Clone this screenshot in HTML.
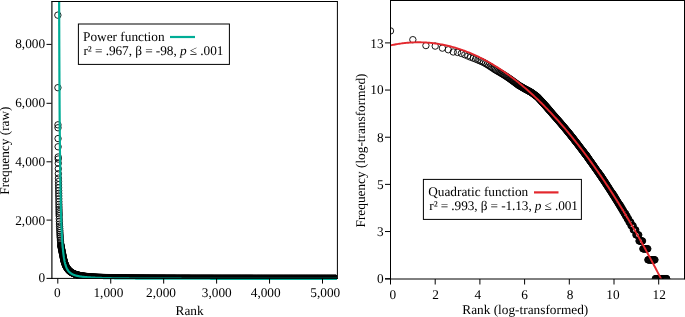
<!DOCTYPE html>
<html><head><meta charset="utf-8"><style>
html,body{margin:0;padding:0;background:#fff;}
body{width:685px;height:317px;overflow:hidden;}
svg{display:block;will-change:transform;} text{text-rendering:geometricPrecision;}
</style></head><body>
<svg width="685" height="317" viewBox="0 0 685 317">
<defs><clipPath id="cl"><rect x="52" y="2" width="285" height="277"/></clipPath><clipPath id="cl2"><rect x="52" y="2" width="285" height="279"/></clipPath><clipPath id="cr"><rect x="391" y="1" width="293" height="277.7"/></clipPath><clipPath id="cr2"><rect x="391" y="1" width="293" height="300"/></clipPath></defs>
<g clip-path="url(#cl)" fill="none" stroke="#000" stroke-width="0.9"><circle cx="57.85" cy="15.15" r="3.2"/><circle cx="57.91" cy="87.69" r="3.2"/><circle cx="57.96" cy="124.84" r="3.2"/><circle cx="58.01" cy="127.76" r="3.2"/><circle cx="58.06" cy="138.58" r="3.2"/><circle cx="58.12" cy="146.77" r="3.2"/><circle cx="58.17" cy="157.01" r="3.2"/><circle cx="58.22" cy="159.06" r="3.2"/><circle cx="58.28" cy="163.27" r="3.2"/><circle cx="58.33" cy="168.74" r="3.2"/><circle cx="58.38" cy="173.74" r="3.2"/><circle cx="58.44" cy="178.19" r="3.2"/><circle cx="58.49" cy="181.58" r="3.2"/><circle cx="58.54" cy="184.80" r="3.2"/><circle cx="58.59" cy="187.84" r="3.2"/><circle cx="58.65" cy="190.68" r="3.2"/><circle cx="58.70" cy="193.40" r="3.2"/><circle cx="58.75" cy="195.94" r="3.2"/><circle cx="58.81" cy="198.81" r="3.2"/><circle cx="58.86" cy="201.71" r="3.2"/><circle cx="58.91" cy="204.43" r="3.2"/><circle cx="58.96" cy="207.00" r="3.2"/><circle cx="59.02" cy="209.40" r="3.2"/><circle cx="59.07" cy="211.65" r="3.2"/><circle cx="59.12" cy="213.79" r="3.2"/><circle cx="59.18" cy="215.80" r="3.2"/><circle cx="59.28" cy="218.82" r="3.2"/><circle cx="59.39" cy="221.57" r="3.2"/><circle cx="59.49" cy="224.08" r="3.2"/><circle cx="59.60" cy="226.42" r="3.2"/><circle cx="59.71" cy="228.59" r="3.2"/><circle cx="59.81" cy="230.69" r="3.2"/><circle cx="59.92" cy="232.65" r="3.2"/><circle cx="60.02" cy="234.50" r="3.2"/><circle cx="60.13" cy="236.19" r="3.2"/><circle cx="60.24" cy="237.80" r="3.2"/><circle cx="60.39" cy="239.99" r="3.2"/><circle cx="60.55" cy="241.98" r="3.2"/><circle cx="60.76" cy="243.91" r="3.2"/><circle cx="60.92" cy="245.14" r="3.2"/><circle cx="60.98" cy="245.52" r="3.2"/><circle cx="61.03" cy="245.90" r="3.2"/><circle cx="61.08" cy="246.25" r="3.2"/><circle cx="61.14" cy="246.63" r="3.2"/><circle cx="61.19" cy="246.99" r="3.2"/><circle cx="61.29" cy="247.57" r="3.2"/><circle cx="61.40" cy="248.13" r="3.2"/><circle cx="61.51" cy="248.68" r="3.2"/><circle cx="61.61" cy="249.21" r="3.2"/><circle cx="61.72" cy="249.73" r="3.2"/><circle cx="61.82" cy="250.23" r="3.2"/><circle cx="61.93" cy="250.73" r="3.2"/><circle cx="62.04" cy="251.26" r="3.2"/><circle cx="62.14" cy="251.84" r="3.2"/><circle cx="62.25" cy="252.40" r="3.2"/><circle cx="62.35" cy="252.92" r="3.2"/><circle cx="62.46" cy="253.45" r="3.2"/><circle cx="62.56" cy="253.95" r="3.2"/><circle cx="62.67" cy="254.41" r="3.2"/><circle cx="62.78" cy="254.88" r="3.2"/><circle cx="62.88" cy="255.38" r="3.2"/><circle cx="62.99" cy="255.97" r="3.2"/><circle cx="63.09" cy="256.52" r="3.2"/><circle cx="63.20" cy="257.08" r="3.2"/><circle cx="63.31" cy="257.60" r="3.2"/><circle cx="63.41" cy="258.10" r="3.2"/><circle cx="63.52" cy="258.60" r="3.2"/><circle cx="63.62" cy="259.07" r="3.2"/><circle cx="63.73" cy="259.50" r="3.2"/><circle cx="63.84" cy="259.94" r="3.2"/><circle cx="63.94" cy="260.35" r="3.2"/><circle cx="64.05" cy="260.76" r="3.2"/><circle cx="64.15" cy="261.14" r="3.2"/><circle cx="64.26" cy="261.52" r="3.2"/><circle cx="64.36" cy="261.87" r="3.2"/><circle cx="64.47" cy="262.22" r="3.2"/><circle cx="64.58" cy="262.58" r="3.2"/><circle cx="64.74" cy="263.07" r="3.2"/><circle cx="64.89" cy="263.54" r="3.2"/><circle cx="65.05" cy="263.98" r="3.2"/><circle cx="65.21" cy="264.39" r="3.2"/><circle cx="65.37" cy="264.80" r="3.2"/><circle cx="65.53" cy="265.18" r="3.2"/><circle cx="65.69" cy="265.56" r="3.2"/><circle cx="65.85" cy="265.91" r="3.2"/><circle cx="66.01" cy="266.23" r="3.2"/><circle cx="66.16" cy="266.55" r="3.2"/><circle cx="66.38" cy="266.93" r="3.2"/><circle cx="66.59" cy="267.31" r="3.2"/><circle cx="66.80" cy="267.67" r="3.2"/><circle cx="67.01" cy="267.99" r="3.2"/><circle cx="67.22" cy="268.31" r="3.2"/><circle cx="67.44" cy="268.60" r="3.2"/><circle cx="67.65" cy="268.89" r="3.2"/><circle cx="67.91" cy="269.22" r="3.2"/><circle cx="68.18" cy="269.54" r="3.2"/><circle cx="68.44" cy="269.86" r="3.2"/><circle cx="68.71" cy="270.12" r="3.2"/><circle cx="68.97" cy="270.41" r="3.2"/><circle cx="69.24" cy="270.68" r="3.2"/><circle cx="69.50" cy="270.91" r="3.2"/><circle cx="69.76" cy="271.15" r="3.2"/><circle cx="70.03" cy="271.38" r="3.2"/><circle cx="70.35" cy="271.61" r="3.2"/><circle cx="70.66" cy="271.88" r="3.2"/><circle cx="70.98" cy="272.08" r="3.2"/><circle cx="71.30" cy="272.32" r="3.2"/><circle cx="71.62" cy="272.52" r="3.2"/><circle cx="71.93" cy="272.70" r="3.2"/><circle cx="72.25" cy="272.90" r="3.2"/><circle cx="72.57" cy="273.08" r="3.2"/><circle cx="72.94" cy="273.25" r="3.2"/><circle cx="73.26" cy="273.43" r="3.2"/><circle cx="73.63" cy="273.57" r="3.2"/><circle cx="74.00" cy="273.75" r="3.2"/><circle cx="74.37" cy="273.92" r="3.2"/><circle cx="74.74" cy="274.07" r="3.2"/><circle cx="75.11" cy="274.19" r="3.2"/><circle cx="75.48" cy="274.33" r="3.2"/><circle cx="75.85" cy="274.45" r="3.2"/><circle cx="76.22" cy="274.60" r="3.2"/><circle cx="76.59" cy="274.71" r="3.2"/><circle cx="76.96" cy="274.80" r="3.2"/><circle cx="77.33" cy="274.92" r="3.2"/><circle cx="77.71" cy="275.01" r="3.2"/><circle cx="78.08" cy="275.12" r="3.2"/><circle cx="78.45" cy="275.21" r="3.2"/><circle cx="78.82" cy="275.30" r="3.2"/><circle cx="79.19" cy="275.39" r="3.2"/><circle cx="79.56" cy="275.45" r="3.2"/><circle cx="79.93" cy="275.53" r="3.2"/><circle cx="80.30" cy="275.62" r="3.2"/><circle cx="80.67" cy="275.68" r="3.2"/><circle cx="81.04" cy="275.74" r="3.2"/><circle cx="81.41" cy="275.83" r="3.2"/><circle cx="81.78" cy="275.88" r="3.2"/><circle cx="82.15" cy="275.94" r="3.2"/><circle cx="82.52" cy="276.00" r="3.2"/><circle cx="82.89" cy="276.06" r="3.2"/><circle cx="83.26" cy="276.12" r="3.2"/><circle cx="83.63" cy="276.18" r="3.2"/><circle cx="84.01" cy="276.21" r="3.2"/><circle cx="84.38" cy="276.26" r="3.2"/><circle cx="84.75" cy="276.32" r="3.2"/><circle cx="85.12" cy="276.35" r="3.2"/><circle cx="85.49" cy="276.41" r="3.2"/><circle cx="85.86" cy="276.44" r="3.2"/><circle cx="86.23" cy="276.50" r="3.2"/><circle cx="86.60" cy="276.53" r="3.2"/><circle cx="86.97" cy="276.59" r="3.2"/><circle cx="87.34" cy="276.62" r="3.2"/><circle cx="87.71" cy="276.64" r="3.2"/><circle cx="88.08" cy="276.67" r="3.2"/><circle cx="88.45" cy="276.73" r="3.2"/><circle cx="88.82" cy="276.76" r="3.2"/><circle cx="89.19" cy="276.79" r="3.2"/><circle cx="89.56" cy="276.82" r="3.2"/><circle cx="89.93" cy="276.85" r="3.2"/><circle cx="90.31" cy="276.88" r="3.2"/><circle cx="90.68" cy="276.91" r="3.2"/><circle cx="91.05" cy="276.94" r="3.2"/><circle cx="91.42" cy="276.97" r="3.2"/><circle cx="91.79" cy="277.00" r="3.2"/><circle cx="92.16" cy="277.03" r="3.2"/><circle cx="92.53" cy="277.05" r="3.2"/><circle cx="92.90" cy="277.05" r="3.2"/><circle cx="93.27" cy="277.08" r="3.2"/><circle cx="93.64" cy="277.11" r="3.2"/><circle cx="94.01" cy="277.14" r="3.2"/><circle cx="94.38" cy="277.17" r="3.2"/><circle cx="94.75" cy="277.17" r="3.2"/><circle cx="95.12" cy="277.20" r="3.2"/><circle cx="95.49" cy="277.23" r="3.2"/><circle cx="95.86" cy="277.23" r="3.2"/><circle cx="96.23" cy="277.26" r="3.2"/><circle cx="96.61" cy="277.29" r="3.2"/><circle cx="96.98" cy="277.29" r="3.2"/><circle cx="97.35" cy="277.32" r="3.2"/><circle cx="97.72" cy="277.35" r="3.2"/><circle cx="98.09" cy="277.35" r="3.2"/><circle cx="98.46" cy="277.38" r="3.2"/><circle cx="98.83" cy="277.38" r="3.2"/><circle cx="99.20" cy="277.41" r="3.2"/><circle cx="99.57" cy="277.41" r="3.2"/><circle cx="99.94" cy="277.43" r="3.2"/><circle cx="100.31" cy="277.43" r="3.2"/><circle cx="100.68" cy="277.46" r="3.2"/><circle cx="101.05" cy="277.46" r="3.2"/><circle cx="101.42" cy="277.49" r="3.2"/><circle cx="101.79" cy="277.49" r="3.2"/><circle cx="102.16" cy="277.52" r="3.2"/><circle cx="102.53" cy="277.52" r="3.2"/><circle cx="102.90" cy="277.55" r="3.2"/><circle cx="103.28" cy="277.55" r="3.2"/><circle cx="103.65" cy="277.58" r="3.2"/><circle cx="104.02" cy="277.58" r="3.2"/><circle cx="104.39" cy="277.58" r="3.2"/><circle cx="104.76" cy="277.61" r="3.2"/><circle cx="105.13" cy="277.61" r="3.2"/><circle cx="105.50" cy="277.64" r="3.2"/><circle cx="105.87" cy="277.64" r="3.2"/><circle cx="106.24" cy="277.64" r="3.2"/><circle cx="106.61" cy="277.67" r="3.2"/><circle cx="106.98" cy="277.67" r="3.2"/><circle cx="107.35" cy="277.67" r="3.2"/><circle cx="107.72" cy="277.70" r="3.2"/><circle cx="108.09" cy="277.70" r="3.2"/><circle cx="108.46" cy="277.70" r="3.2"/><circle cx="108.83" cy="277.73" r="3.2"/><circle cx="109.20" cy="277.73" r="3.2"/><circle cx="109.58" cy="277.73" r="3.2"/><circle cx="109.95" cy="277.76" r="3.2"/><circle cx="110.32" cy="277.76" r="3.2"/><circle cx="110.69" cy="277.76" r="3.2"/><circle cx="111.06" cy="277.76" r="3.2"/><circle cx="111.43" cy="277.79" r="3.2"/><circle cx="111.80" cy="277.79" r="3.2"/><circle cx="112.17" cy="277.79" r="3.2"/><circle cx="112.54" cy="277.79" r="3.2"/><circle cx="112.91" cy="277.81" r="3.2"/><circle cx="113.28" cy="277.81" r="3.2"/><circle cx="113.65" cy="277.81" r="3.2"/><circle cx="114.02" cy="277.81" r="3.2"/><circle cx="114.39" cy="277.84" r="3.2"/><circle cx="114.76" cy="277.84" r="3.2"/><circle cx="115.13" cy="277.84" r="3.2"/><circle cx="115.50" cy="277.84" r="3.2"/><circle cx="115.88" cy="277.87" r="3.2"/><circle cx="116.25" cy="277.87" r="3.2"/><circle cx="116.62" cy="277.87" r="3.2"/><circle cx="116.99" cy="277.87" r="3.2"/><circle cx="117.36" cy="277.87" r="3.2"/><circle cx="117.73" cy="277.90" r="3.2"/><circle cx="118.10" cy="277.90" r="3.2"/><circle cx="118.47" cy="277.90" r="3.2"/><circle cx="118.84" cy="277.90" r="3.2"/><circle cx="119.21" cy="277.90" r="3.2"/><circle cx="119.58" cy="277.93" r="3.2"/><circle cx="119.95" cy="277.93" r="3.2"/><circle cx="120.32" cy="277.93" r="3.2"/><circle cx="120.69" cy="277.93" r="3.2"/><circle cx="121.06" cy="277.93" r="3.2"/><circle cx="121.43" cy="277.96" r="3.2"/><circle cx="121.80" cy="277.96" r="3.2"/><circle cx="122.18" cy="277.96" r="3.2"/><circle cx="122.55" cy="277.96" r="3.2"/><circle cx="122.92" cy="277.96" r="3.2"/><circle cx="123.29" cy="277.96" r="3.2"/><circle cx="123.66" cy="277.99" r="3.2"/><circle cx="124.03" cy="277.99" r="3.2"/><circle cx="124.40" cy="277.99" r="3.2"/><circle cx="124.77" cy="277.99" r="3.2"/><circle cx="125.14" cy="277.99" r="3.2"/><circle cx="125.51" cy="277.99" r="3.2"/><circle cx="125.88" cy="277.99" r="3.2"/><circle cx="126.25" cy="278.02" r="3.2"/><circle cx="126.62" cy="278.02" r="3.2"/><circle cx="126.99" cy="278.02" r="3.2"/><circle cx="127.36" cy="278.02" r="3.2"/><circle cx="127.73" cy="278.02" r="3.2"/><circle cx="128.10" cy="278.02" r="3.2"/><circle cx="128.47" cy="278.02" r="3.2"/><circle cx="128.85" cy="278.05" r="3.2"/><circle cx="129.22" cy="278.05" r="3.2"/><circle cx="129.59" cy="278.05" r="3.2"/><circle cx="129.96" cy="278.05" r="3.2"/><circle cx="130.33" cy="278.05" r="3.2"/><circle cx="130.70" cy="278.05" r="3.2"/><circle cx="131.07" cy="278.05" r="3.2"/><circle cx="131.44" cy="278.05" r="3.2"/><circle cx="131.81" cy="278.05" r="3.2"/><circle cx="132.18" cy="278.08" r="3.2"/><circle cx="132.55" cy="278.08" r="3.2"/><circle cx="132.92" cy="278.08" r="3.2"/><circle cx="133.29" cy="278.08" r="3.2"/><circle cx="133.66" cy="278.08" r="3.2"/><circle cx="134.03" cy="278.08" r="3.2"/><circle cx="134.40" cy="278.08" r="3.2"/><circle cx="134.77" cy="278.08" r="3.2"/><circle cx="135.15" cy="278.08" r="3.2"/><circle cx="135.52" cy="278.11" r="3.2"/><circle cx="135.89" cy="278.11" r="3.2"/><circle cx="136.26" cy="278.11" r="3.2"/><circle cx="136.63" cy="278.11" r="3.2"/><circle cx="137.00" cy="278.11" r="3.2"/><circle cx="137.37" cy="278.11" r="3.2"/><circle cx="137.74" cy="278.11" r="3.2"/><circle cx="138.11" cy="278.11" r="3.2"/><circle cx="138.48" cy="278.11" r="3.2"/><circle cx="138.85" cy="278.11" r="3.2"/><circle cx="139.22" cy="278.11" r="3.2"/><circle cx="139.59" cy="278.14" r="3.2"/><circle cx="139.96" cy="278.14" r="3.2"/><circle cx="140.33" cy="278.14" r="3.2"/><circle cx="140.70" cy="278.14" r="3.2"/><circle cx="141.07" cy="278.14" r="3.2"/><circle cx="141.45" cy="278.14" r="3.2"/><circle cx="141.82" cy="278.14" r="3.2"/><circle cx="142.19" cy="278.14" r="3.2"/><circle cx="142.56" cy="278.14" r="3.2"/><circle cx="142.93" cy="278.14" r="3.2"/><circle cx="143.30" cy="278.14" r="3.2"/><circle cx="143.67" cy="278.14" r="3.2"/><circle cx="144.04" cy="278.14" r="3.2"/><circle cx="144.41" cy="278.17" r="3.2"/><circle cx="144.78" cy="278.17" r="3.2"/><circle cx="145.15" cy="278.17" r="3.2"/><circle cx="145.52" cy="278.17" r="3.2"/><circle cx="145.89" cy="278.17" r="3.2"/><circle cx="146.26" cy="278.17" r="3.2"/><circle cx="146.63" cy="278.17" r="3.2"/><circle cx="147.00" cy="278.17" r="3.2"/><circle cx="147.37" cy="278.17" r="3.2"/><circle cx="147.75" cy="278.17" r="3.2"/><circle cx="148.12" cy="278.17" r="3.2"/><circle cx="148.49" cy="278.17" r="3.2"/><circle cx="148.86" cy="278.17" r="3.2"/><circle cx="149.23" cy="278.17" r="3.2"/><circle cx="149.60" cy="278.17" r="3.2"/><circle cx="149.97" cy="278.20" r="3.2"/><circle cx="150.34" cy="278.20" r="3.2"/><circle cx="150.71" cy="278.20" r="3.2"/><circle cx="151.08" cy="278.20" r="3.2"/><circle cx="151.45" cy="278.20" r="3.2"/><circle cx="151.82" cy="278.20" r="3.2"/><circle cx="152.19" cy="278.20" r="3.2"/><circle cx="152.56" cy="278.20" r="3.2"/><circle cx="152.93" cy="278.20" r="3.2"/><circle cx="153.30" cy="278.20" r="3.2"/><circle cx="153.67" cy="278.20" r="3.2"/><circle cx="154.04" cy="278.20" r="3.2"/><circle cx="154.42" cy="278.20" r="3.2"/><circle cx="154.79" cy="278.20" r="3.2"/><circle cx="155.16" cy="278.20" r="3.2"/><circle cx="155.53" cy="278.20" r="3.2"/><circle cx="155.90" cy="278.20" r="3.2"/><circle cx="156.27" cy="278.20" r="3.2"/><circle cx="156.64" cy="278.22" r="3.2"/><circle cx="157.01" cy="278.22" r="3.2"/><circle cx="157.38" cy="278.22" r="3.2"/><circle cx="157.75" cy="278.22" r="3.2"/><circle cx="158.12" cy="278.22" r="3.2"/><circle cx="158.49" cy="278.22" r="3.2"/><circle cx="158.86" cy="278.22" r="3.2"/><circle cx="159.23" cy="278.22" r="3.2"/><circle cx="159.60" cy="278.22" r="3.2"/><circle cx="159.97" cy="278.22" r="3.2"/><circle cx="160.34" cy="278.22" r="3.2"/><circle cx="160.72" cy="278.22" r="3.2"/><circle cx="161.09" cy="278.22" r="3.2"/><circle cx="161.46" cy="278.22" r="3.2"/><circle cx="161.83" cy="278.22" r="3.2"/><circle cx="162.20" cy="278.22" r="3.2"/><circle cx="162.57" cy="278.22" r="3.2"/><circle cx="162.94" cy="278.22" r="3.2"/><circle cx="163.31" cy="278.22" r="3.2"/><circle cx="163.68" cy="278.22" r="3.2"/><circle cx="164.05" cy="278.22" r="3.2"/><circle cx="164.42" cy="278.22" r="3.2"/><circle cx="164.79" cy="278.25" r="3.2"/><circle cx="165.16" cy="278.25" r="3.2"/><circle cx="165.53" cy="278.25" r="3.2"/><circle cx="165.90" cy="278.25" r="3.2"/><circle cx="166.27" cy="278.25" r="3.2"/><circle cx="166.64" cy="278.25" r="3.2"/><circle cx="167.02" cy="278.25" r="3.2"/><circle cx="167.39" cy="278.25" r="3.2"/><circle cx="167.76" cy="278.25" r="3.2"/><circle cx="168.13" cy="278.25" r="3.2"/><circle cx="168.50" cy="278.25" r="3.2"/><circle cx="168.87" cy="278.25" r="3.2"/><circle cx="169.24" cy="278.25" r="3.2"/><circle cx="169.61" cy="278.25" r="3.2"/><circle cx="169.98" cy="278.25" r="3.2"/><circle cx="170.35" cy="278.25" r="3.2"/><circle cx="170.72" cy="278.25" r="3.2"/><circle cx="171.09" cy="278.25" r="3.2"/><circle cx="171.46" cy="278.25" r="3.2"/><circle cx="171.83" cy="278.25" r="3.2"/><circle cx="172.20" cy="278.25" r="3.2"/><circle cx="172.57" cy="278.25" r="3.2"/><circle cx="172.94" cy="278.25" r="3.2"/><circle cx="173.32" cy="278.25" r="3.2"/><circle cx="173.69" cy="278.25" r="3.2"/><circle cx="174.06" cy="278.25" r="3.2"/><circle cx="174.43" cy="278.25" r="3.2"/><circle cx="174.80" cy="278.25" r="3.2"/><circle cx="175.17" cy="278.25" r="3.2"/><circle cx="175.54" cy="278.28" r="3.2"/><circle cx="175.91" cy="278.28" r="3.2"/><circle cx="176.28" cy="278.28" r="3.2"/><circle cx="176.65" cy="278.28" r="3.2"/><circle cx="177.02" cy="278.28" r="3.2"/><circle cx="177.39" cy="278.28" r="3.2"/><circle cx="177.76" cy="278.28" r="3.2"/><circle cx="178.13" cy="278.28" r="3.2"/><circle cx="178.50" cy="278.28" r="3.2"/><circle cx="178.87" cy="278.28" r="3.2"/><circle cx="179.24" cy="278.28" r="3.2"/><circle cx="179.61" cy="278.28" r="3.2"/><circle cx="179.99" cy="278.28" r="3.2"/><circle cx="180.36" cy="278.28" r="3.2"/><circle cx="180.73" cy="278.28" r="3.2"/><circle cx="181.10" cy="278.28" r="3.2"/><circle cx="181.47" cy="278.28" r="3.2"/><circle cx="181.84" cy="278.28" r="3.2"/><circle cx="182.21" cy="278.28" r="3.2"/><circle cx="182.58" cy="278.28" r="3.2"/><circle cx="182.95" cy="278.28" r="3.2"/><circle cx="183.32" cy="278.28" r="3.2"/><circle cx="183.69" cy="278.28" r="3.2"/><circle cx="184.06" cy="278.28" r="3.2"/><circle cx="184.43" cy="278.28" r="3.2"/><circle cx="184.80" cy="278.28" r="3.2"/><circle cx="185.17" cy="278.28" r="3.2"/><circle cx="185.54" cy="278.28" r="3.2"/><circle cx="185.91" cy="278.28" r="3.2"/><circle cx="186.29" cy="278.28" r="3.2"/><circle cx="186.66" cy="278.28" r="3.2"/><circle cx="187.03" cy="278.28" r="3.2"/><circle cx="187.40" cy="278.28" r="3.2"/><circle cx="187.77" cy="278.28" r="3.2"/><circle cx="188.14" cy="278.28" r="3.2"/><circle cx="188.51" cy="278.28" r="3.2"/><circle cx="188.88" cy="278.28" r="3.2"/><circle cx="189.25" cy="278.28" r="3.2"/><circle cx="189.62" cy="278.28" r="3.2"/><circle cx="189.99" cy="278.28" r="3.2"/><circle cx="190.36" cy="278.31" r="3.2"/><circle cx="190.73" cy="278.31" r="3.2"/><circle cx="191.10" cy="278.31" r="3.2"/><circle cx="191.47" cy="278.31" r="3.2"/><circle cx="191.84" cy="278.31" r="3.2"/><circle cx="192.21" cy="278.31" r="3.2"/><circle cx="192.59" cy="278.31" r="3.2"/><circle cx="192.96" cy="278.31" r="3.2"/><circle cx="193.33" cy="278.31" r="3.2"/><circle cx="193.70" cy="278.31" r="3.2"/><circle cx="194.07" cy="278.31" r="3.2"/><circle cx="194.44" cy="278.31" r="3.2"/><circle cx="194.81" cy="278.31" r="3.2"/><circle cx="195.18" cy="278.31" r="3.2"/><circle cx="195.55" cy="278.31" r="3.2"/><circle cx="195.92" cy="278.31" r="3.2"/><circle cx="196.29" cy="278.31" r="3.2"/><circle cx="196.66" cy="278.31" r="3.2"/><circle cx="197.03" cy="278.31" r="3.2"/><circle cx="197.40" cy="278.31" r="3.2"/><circle cx="197.77" cy="278.31" r="3.2"/><circle cx="198.14" cy="278.31" r="3.2"/><circle cx="198.51" cy="278.31" r="3.2"/><circle cx="198.89" cy="278.31" r="3.2"/><circle cx="199.26" cy="278.31" r="3.2"/><circle cx="199.63" cy="278.31" r="3.2"/><circle cx="200.00" cy="278.31" r="3.2"/><circle cx="200.37" cy="278.31" r="3.2"/><circle cx="200.74" cy="278.31" r="3.2"/><circle cx="201.11" cy="278.31" r="3.2"/><circle cx="201.48" cy="278.31" r="3.2"/><circle cx="201.85" cy="278.31" r="3.2"/><circle cx="202.22" cy="278.31" r="3.2"/><circle cx="202.59" cy="278.31" r="3.2"/><circle cx="202.96" cy="278.31" r="3.2"/><circle cx="203.33" cy="278.31" r="3.2"/><circle cx="203.70" cy="278.31" r="3.2"/><circle cx="204.07" cy="278.31" r="3.2"/><circle cx="204.44" cy="278.31" r="3.2"/><circle cx="204.81" cy="278.31" r="3.2"/><circle cx="205.18" cy="278.31" r="3.2"/><circle cx="205.56" cy="278.31" r="3.2"/><circle cx="205.93" cy="278.31" r="3.2"/><circle cx="206.30" cy="278.31" r="3.2"/><circle cx="206.67" cy="278.31" r="3.2"/><circle cx="207.04" cy="278.31" r="3.2"/><circle cx="207.41" cy="278.31" r="3.2"/><circle cx="207.78" cy="278.31" r="3.2"/><circle cx="208.15" cy="278.31" r="3.2"/><circle cx="208.52" cy="278.31" r="3.2"/><circle cx="208.89" cy="278.31" r="3.2"/><circle cx="209.26" cy="278.31" r="3.2"/><circle cx="209.63" cy="278.31" r="3.2"/><circle cx="210.00" cy="278.31" r="3.2"/><circle cx="210.37" cy="278.31" r="3.2"/><circle cx="210.74" cy="278.31" r="3.2"/><circle cx="211.11" cy="278.31" r="3.2"/><circle cx="211.48" cy="278.31" r="3.2"/><circle cx="211.86" cy="278.31" r="3.2"/><circle cx="212.23" cy="278.31" r="3.2"/><circle cx="212.60" cy="278.31" r="3.2"/><circle cx="212.97" cy="278.34" r="3.2"/><circle cx="213.34" cy="278.34" r="3.2"/><circle cx="213.71" cy="278.34" r="3.2"/><circle cx="214.08" cy="278.34" r="3.2"/><circle cx="214.45" cy="278.34" r="3.2"/><circle cx="214.82" cy="278.34" r="3.2"/><circle cx="215.19" cy="278.34" r="3.2"/><circle cx="215.56" cy="278.34" r="3.2"/><circle cx="215.93" cy="278.34" r="3.2"/><circle cx="216.30" cy="278.34" r="3.2"/><circle cx="216.67" cy="278.34" r="3.2"/><circle cx="217.04" cy="278.34" r="3.2"/><circle cx="217.41" cy="278.34" r="3.2"/><circle cx="217.78" cy="278.34" r="3.2"/><circle cx="218.16" cy="278.34" r="3.2"/><circle cx="218.53" cy="278.34" r="3.2"/><circle cx="218.90" cy="278.34" r="3.2"/><circle cx="219.27" cy="278.34" r="3.2"/><circle cx="219.64" cy="278.34" r="3.2"/><circle cx="220.01" cy="278.34" r="3.2"/><circle cx="220.38" cy="278.34" r="3.2"/><circle cx="220.75" cy="278.34" r="3.2"/><circle cx="221.12" cy="278.34" r="3.2"/><circle cx="221.49" cy="278.34" r="3.2"/><circle cx="221.86" cy="278.34" r="3.2"/><circle cx="222.23" cy="278.34" r="3.2"/><circle cx="222.60" cy="278.34" r="3.2"/><circle cx="222.97" cy="278.34" r="3.2"/><circle cx="223.34" cy="278.34" r="3.2"/><circle cx="223.71" cy="278.34" r="3.2"/><circle cx="224.08" cy="278.34" r="3.2"/><circle cx="224.46" cy="278.34" r="3.2"/><circle cx="224.83" cy="278.34" r="3.2"/><circle cx="225.20" cy="278.34" r="3.2"/><circle cx="225.57" cy="278.34" r="3.2"/><circle cx="225.94" cy="278.34" r="3.2"/><circle cx="226.31" cy="278.34" r="3.2"/><circle cx="226.68" cy="278.34" r="3.2"/><circle cx="227.05" cy="278.34" r="3.2"/><circle cx="227.42" cy="278.34" r="3.2"/><circle cx="227.79" cy="278.34" r="3.2"/><circle cx="228.16" cy="278.34" r="3.2"/><circle cx="228.53" cy="278.34" r="3.2"/><circle cx="228.90" cy="278.34" r="3.2"/><circle cx="229.27" cy="278.34" r="3.2"/><circle cx="229.64" cy="278.34" r="3.2"/><circle cx="230.01" cy="278.34" r="3.2"/><circle cx="230.38" cy="278.34" r="3.2"/><circle cx="230.75" cy="278.34" r="3.2"/><circle cx="231.13" cy="278.34" r="3.2"/><circle cx="231.50" cy="278.34" r="3.2"/><circle cx="231.87" cy="278.34" r="3.2"/><circle cx="232.24" cy="278.34" r="3.2"/><circle cx="232.61" cy="278.34" r="3.2"/><circle cx="232.98" cy="278.34" r="3.2"/><circle cx="233.35" cy="278.34" r="3.2"/><circle cx="233.72" cy="278.34" r="3.2"/><circle cx="234.09" cy="278.34" r="3.2"/><circle cx="234.46" cy="278.34" r="3.2"/><circle cx="234.83" cy="278.34" r="3.2"/><circle cx="235.20" cy="278.34" r="3.2"/><circle cx="235.57" cy="278.34" r="3.2"/><circle cx="235.94" cy="278.34" r="3.2"/><circle cx="236.31" cy="278.34" r="3.2"/><circle cx="236.68" cy="278.34" r="3.2"/><circle cx="237.05" cy="278.34" r="3.2"/><circle cx="237.43" cy="278.34" r="3.2"/><circle cx="237.80" cy="278.34" r="3.2"/><circle cx="238.17" cy="278.34" r="3.2"/><circle cx="238.54" cy="278.34" r="3.2"/><circle cx="238.91" cy="278.34" r="3.2"/><circle cx="239.28" cy="278.34" r="3.2"/><circle cx="239.65" cy="278.34" r="3.2"/><circle cx="240.02" cy="278.34" r="3.2"/><circle cx="240.39" cy="278.34" r="3.2"/><circle cx="240.76" cy="278.34" r="3.2"/><circle cx="241.13" cy="278.34" r="3.2"/><circle cx="241.50" cy="278.34" r="3.2"/><circle cx="241.87" cy="278.34" r="3.2"/><circle cx="242.24" cy="278.34" r="3.2"/><circle cx="242.61" cy="278.34" r="3.2"/><circle cx="242.98" cy="278.34" r="3.2"/><circle cx="243.35" cy="278.34" r="3.2"/><circle cx="243.73" cy="278.34" r="3.2"/><circle cx="244.10" cy="278.34" r="3.2"/><circle cx="244.47" cy="278.34" r="3.2"/><circle cx="244.84" cy="278.34" r="3.2"/><circle cx="245.21" cy="278.34" r="3.2"/><circle cx="245.58" cy="278.34" r="3.2"/><circle cx="245.95" cy="278.34" r="3.2"/><circle cx="246.32" cy="278.34" r="3.2"/><circle cx="246.69" cy="278.34" r="3.2"/><circle cx="247.06" cy="278.34" r="3.2"/><circle cx="247.43" cy="278.34" r="3.2"/><circle cx="247.80" cy="278.34" r="3.2"/><circle cx="248.17" cy="278.34" r="3.2"/><circle cx="248.54" cy="278.34" r="3.2"/><circle cx="248.91" cy="278.34" r="3.2"/><circle cx="249.28" cy="278.34" r="3.2"/><circle cx="249.65" cy="278.34" r="3.2"/><circle cx="250.03" cy="278.34" r="3.2"/><circle cx="250.40" cy="278.34" r="3.2"/><circle cx="250.77" cy="278.34" r="3.2"/><circle cx="251.14" cy="278.34" r="3.2"/><circle cx="251.51" cy="278.34" r="3.2"/><circle cx="251.88" cy="278.34" r="3.2"/><circle cx="252.25" cy="278.34" r="3.2"/><circle cx="252.62" cy="278.34" r="3.2"/><circle cx="252.99" cy="278.37" r="3.2"/><circle cx="253.36" cy="278.37" r="3.2"/><circle cx="253.73" cy="278.37" r="3.2"/><circle cx="254.10" cy="278.37" r="3.2"/><circle cx="254.47" cy="278.37" r="3.2"/><circle cx="254.84" cy="278.37" r="3.2"/><circle cx="255.21" cy="278.37" r="3.2"/><circle cx="255.58" cy="278.37" r="3.2"/><circle cx="255.95" cy="278.37" r="3.2"/><circle cx="256.32" cy="278.37" r="3.2"/><circle cx="256.70" cy="278.37" r="3.2"/><circle cx="257.07" cy="278.37" r="3.2"/><circle cx="257.44" cy="278.37" r="3.2"/><circle cx="257.81" cy="278.37" r="3.2"/><circle cx="258.18" cy="278.37" r="3.2"/><circle cx="258.55" cy="278.37" r="3.2"/><circle cx="258.92" cy="278.37" r="3.2"/><circle cx="259.29" cy="278.37" r="3.2"/><circle cx="259.66" cy="278.37" r="3.2"/><circle cx="260.03" cy="278.37" r="3.2"/><circle cx="260.40" cy="278.37" r="3.2"/><circle cx="260.77" cy="278.37" r="3.2"/><circle cx="261.14" cy="278.37" r="3.2"/><circle cx="261.51" cy="278.37" r="3.2"/><circle cx="261.88" cy="278.37" r="3.2"/><circle cx="262.25" cy="278.37" r="3.2"/><circle cx="262.62" cy="278.37" r="3.2"/><circle cx="263.00" cy="278.37" r="3.2"/><circle cx="263.37" cy="278.37" r="3.2"/><circle cx="263.74" cy="278.37" r="3.2"/><circle cx="264.11" cy="278.37" r="3.2"/><circle cx="264.48" cy="278.37" r="3.2"/><circle cx="264.85" cy="278.37" r="3.2"/><circle cx="265.22" cy="278.37" r="3.2"/><circle cx="265.59" cy="278.37" r="3.2"/><circle cx="265.96" cy="278.37" r="3.2"/><circle cx="266.33" cy="278.37" r="3.2"/><circle cx="266.70" cy="278.37" r="3.2"/><circle cx="267.07" cy="278.37" r="3.2"/><circle cx="267.44" cy="278.37" r="3.2"/><circle cx="267.81" cy="278.37" r="3.2"/><circle cx="268.18" cy="278.37" r="3.2"/><circle cx="268.55" cy="278.37" r="3.2"/><circle cx="268.92" cy="278.37" r="3.2"/><circle cx="269.30" cy="278.37" r="3.2"/><circle cx="269.67" cy="278.37" r="3.2"/><circle cx="270.04" cy="278.37" r="3.2"/><circle cx="270.41" cy="278.37" r="3.2"/><circle cx="270.78" cy="278.37" r="3.2"/><circle cx="271.15" cy="278.37" r="3.2"/><circle cx="271.52" cy="278.37" r="3.2"/><circle cx="271.89" cy="278.37" r="3.2"/><circle cx="272.26" cy="278.37" r="3.2"/><circle cx="272.63" cy="278.37" r="3.2"/><circle cx="273.00" cy="278.37" r="3.2"/><circle cx="273.37" cy="278.37" r="3.2"/><circle cx="273.74" cy="278.37" r="3.2"/><circle cx="274.11" cy="278.37" r="3.2"/><circle cx="274.48" cy="278.37" r="3.2"/><circle cx="274.85" cy="278.37" r="3.2"/><circle cx="275.22" cy="278.37" r="3.2"/><circle cx="275.60" cy="278.37" r="3.2"/><circle cx="275.97" cy="278.37" r="3.2"/><circle cx="276.34" cy="278.37" r="3.2"/><circle cx="276.71" cy="278.37" r="3.2"/><circle cx="277.08" cy="278.37" r="3.2"/><circle cx="277.45" cy="278.37" r="3.2"/><circle cx="277.82" cy="278.37" r="3.2"/><circle cx="278.19" cy="278.37" r="3.2"/><circle cx="278.56" cy="278.37" r="3.2"/><circle cx="278.93" cy="278.37" r="3.2"/><circle cx="279.30" cy="278.37" r="3.2"/><circle cx="279.67" cy="278.37" r="3.2"/><circle cx="280.04" cy="278.37" r="3.2"/><circle cx="280.41" cy="278.37" r="3.2"/><circle cx="280.78" cy="278.37" r="3.2"/><circle cx="281.15" cy="278.37" r="3.2"/><circle cx="281.52" cy="278.37" r="3.2"/><circle cx="281.90" cy="278.37" r="3.2"/><circle cx="282.27" cy="278.37" r="3.2"/><circle cx="282.64" cy="278.37" r="3.2"/><circle cx="283.01" cy="278.37" r="3.2"/><circle cx="283.38" cy="278.37" r="3.2"/><circle cx="283.75" cy="278.37" r="3.2"/><circle cx="284.12" cy="278.37" r="3.2"/><circle cx="284.49" cy="278.37" r="3.2"/><circle cx="284.86" cy="278.37" r="3.2"/><circle cx="285.23" cy="278.37" r="3.2"/><circle cx="285.60" cy="278.37" r="3.2"/><circle cx="285.97" cy="278.37" r="3.2"/><circle cx="286.34" cy="278.37" r="3.2"/><circle cx="286.71" cy="278.37" r="3.2"/><circle cx="287.08" cy="278.37" r="3.2"/><circle cx="287.45" cy="278.37" r="3.2"/><circle cx="287.82" cy="278.37" r="3.2"/><circle cx="288.19" cy="278.37" r="3.2"/><circle cx="288.57" cy="278.37" r="3.2"/><circle cx="288.94" cy="278.37" r="3.2"/><circle cx="289.31" cy="278.37" r="3.2"/><circle cx="289.68" cy="278.37" r="3.2"/><circle cx="290.05" cy="278.37" r="3.2"/><circle cx="290.42" cy="278.37" r="3.2"/><circle cx="290.79" cy="278.37" r="3.2"/><circle cx="291.16" cy="278.37" r="3.2"/><circle cx="291.53" cy="278.37" r="3.2"/><circle cx="291.90" cy="278.37" r="3.2"/><circle cx="292.27" cy="278.37" r="3.2"/><circle cx="292.64" cy="278.37" r="3.2"/><circle cx="293.01" cy="278.37" r="3.2"/><circle cx="293.38" cy="278.37" r="3.2"/><circle cx="293.75" cy="278.37" r="3.2"/><circle cx="294.12" cy="278.37" r="3.2"/><circle cx="294.49" cy="278.37" r="3.2"/><circle cx="294.87" cy="278.37" r="3.2"/><circle cx="295.24" cy="278.37" r="3.2"/><circle cx="295.61" cy="278.37" r="3.2"/><circle cx="295.98" cy="278.37" r="3.2"/><circle cx="296.35" cy="278.37" r="3.2"/><circle cx="296.72" cy="278.37" r="3.2"/><circle cx="297.09" cy="278.37" r="3.2"/><circle cx="297.46" cy="278.37" r="3.2"/><circle cx="297.83" cy="278.37" r="3.2"/><circle cx="298.20" cy="278.37" r="3.2"/><circle cx="298.57" cy="278.37" r="3.2"/><circle cx="298.94" cy="278.37" r="3.2"/><circle cx="299.31" cy="278.37" r="3.2"/><circle cx="299.68" cy="278.37" r="3.2"/><circle cx="300.05" cy="278.37" r="3.2"/><circle cx="300.42" cy="278.37" r="3.2"/><circle cx="300.79" cy="278.37" r="3.2"/><circle cx="301.17" cy="278.37" r="3.2"/><circle cx="301.54" cy="278.37" r="3.2"/><circle cx="301.91" cy="278.37" r="3.2"/><circle cx="302.28" cy="278.37" r="3.2"/><circle cx="302.65" cy="278.37" r="3.2"/><circle cx="303.02" cy="278.37" r="3.2"/><circle cx="303.39" cy="278.37" r="3.2"/><circle cx="303.76" cy="278.37" r="3.2"/><circle cx="304.13" cy="278.37" r="3.2"/><circle cx="304.50" cy="278.37" r="3.2"/><circle cx="304.87" cy="278.37" r="3.2"/><circle cx="305.24" cy="278.37" r="3.2"/><circle cx="305.61" cy="278.37" r="3.2"/><circle cx="305.98" cy="278.37" r="3.2"/><circle cx="306.35" cy="278.37" r="3.2"/><circle cx="306.72" cy="278.37" r="3.2"/><circle cx="307.09" cy="278.37" r="3.2"/><circle cx="307.47" cy="278.37" r="3.2"/><circle cx="307.84" cy="278.37" r="3.2"/><circle cx="308.21" cy="278.37" r="3.2"/><circle cx="308.58" cy="278.37" r="3.2"/><circle cx="308.95" cy="278.37" r="3.2"/><circle cx="309.32" cy="278.37" r="3.2"/><circle cx="309.69" cy="278.37" r="3.2"/><circle cx="310.06" cy="278.37" r="3.2"/><circle cx="310.43" cy="278.37" r="3.2"/><circle cx="310.80" cy="278.37" r="3.2"/><circle cx="311.17" cy="278.37" r="3.2"/><circle cx="311.54" cy="278.37" r="3.2"/><circle cx="311.91" cy="278.37" r="3.2"/><circle cx="312.28" cy="278.37" r="3.2"/><circle cx="312.65" cy="278.37" r="3.2"/><circle cx="313.02" cy="278.37" r="3.2"/><circle cx="313.39" cy="278.37" r="3.2"/><circle cx="313.76" cy="278.37" r="3.2"/><circle cx="314.14" cy="278.37" r="3.2"/><circle cx="314.51" cy="278.37" r="3.2"/><circle cx="314.88" cy="278.37" r="3.2"/><circle cx="315.25" cy="278.37" r="3.2"/><circle cx="315.62" cy="278.37" r="3.2"/><circle cx="315.99" cy="278.37" r="3.2"/><circle cx="316.36" cy="278.37" r="3.2"/><circle cx="316.73" cy="278.37" r="3.2"/><circle cx="317.10" cy="278.37" r="3.2"/><circle cx="317.47" cy="278.37" r="3.2"/><circle cx="317.84" cy="278.37" r="3.2"/><circle cx="318.21" cy="278.37" r="3.2"/><circle cx="318.58" cy="278.37" r="3.2"/><circle cx="318.95" cy="278.37" r="3.2"/><circle cx="319.32" cy="278.37" r="3.2"/><circle cx="319.69" cy="278.37" r="3.2"/><circle cx="320.06" cy="278.37" r="3.2"/><circle cx="320.44" cy="278.37" r="3.2"/><circle cx="320.81" cy="278.37" r="3.2"/><circle cx="321.18" cy="278.37" r="3.2"/><circle cx="321.55" cy="278.37" r="3.2"/><circle cx="321.92" cy="278.37" r="3.2"/><circle cx="322.29" cy="278.37" r="3.2"/><circle cx="322.66" cy="278.37" r="3.2"/><circle cx="323.03" cy="278.37" r="3.2"/><circle cx="323.40" cy="278.37" r="3.2"/><circle cx="323.77" cy="278.37" r="3.2"/><circle cx="324.14" cy="278.37" r="3.2"/><circle cx="324.51" cy="278.37" r="3.2"/><circle cx="324.88" cy="278.37" r="3.2"/><circle cx="325.25" cy="278.37" r="3.2"/><circle cx="325.62" cy="278.37" r="3.2"/><circle cx="325.99" cy="278.37" r="3.2"/><circle cx="326.36" cy="278.37" r="3.2"/><circle cx="326.74" cy="278.37" r="3.2"/><circle cx="327.11" cy="278.37" r="3.2"/><circle cx="327.48" cy="278.37" r="3.2"/><circle cx="327.85" cy="278.37" r="3.2"/><circle cx="328.22" cy="278.37" r="3.2"/><circle cx="328.59" cy="278.37" r="3.2"/><circle cx="328.96" cy="278.37" r="3.2"/><circle cx="329.33" cy="278.37" r="3.2"/><circle cx="329.70" cy="278.37" r="3.2"/><circle cx="330.07" cy="278.37" r="3.2"/><circle cx="330.44" cy="278.37" r="3.2"/><circle cx="330.81" cy="278.37" r="3.2"/><circle cx="331.18" cy="278.37" r="3.2"/><circle cx="331.55" cy="278.37" r="3.2"/><circle cx="331.92" cy="278.37" r="3.2"/><circle cx="332.29" cy="278.37" r="3.2"/><circle cx="332.66" cy="278.37" r="3.2"/><circle cx="333.04" cy="278.37" r="3.2"/><circle cx="333.41" cy="278.37" r="3.2"/><circle cx="333.78" cy="278.37" r="3.2"/><circle cx="334.15" cy="278.37" r="3.2"/><circle cx="334.52" cy="278.37" r="3.2"/><circle cx="334.89" cy="278.37" r="3.2"/><circle cx="335.26" cy="278.37" r="3.2"/><circle cx="335.63" cy="278.37" r="3.2"/><circle cx="335.74" cy="278.37" r="3.2"/></g>
<path clip-path="url(#cl2)" d="M59.00 -48.42 L59.02 -43.17 L59.03 -38.00 L59.04 -32.92 L59.05 -27.92 L59.07 -23.00 L59.08 -18.15 L59.09 -13.39 L59.10 -8.70 L59.12 -4.09 L59.13 0.45 L59.14 4.92 L59.16 9.31 L59.17 13.64 L59.18 17.89 L59.20 22.08 L59.21 26.20 L59.23 30.25 L59.24 34.24 L59.25 38.16 L59.27 42.02 L59.28 45.82 L59.30 49.56 L59.31 53.24 L59.33 56.86 L59.34 60.42 L59.36 63.92 L59.38 67.37 L59.39 70.77 L59.41 74.10 L59.42 77.39 L59.44 80.62 L59.46 83.80 L59.47 86.93 L59.49 90.01 L59.51 93.04 L59.52 96.02 L59.54 98.95 L59.56 101.84 L59.57 104.68 L59.59 107.47 L59.61 110.22 L59.63 112.93 L59.65 115.59 L59.67 118.21 L59.68 120.79 L59.70 123.32 L59.72 125.82 L59.74 128.27 L59.76 130.69 L59.78 133.07 L59.80 135.41 L59.82 137.71 L59.84 139.97 L59.86 142.20 L59.88 144.39 L59.90 146.55 L59.92 148.67 L59.94 150.76 L59.96 152.82 L59.99 154.84 L60.01 156.83 L60.03 158.79 L60.05 160.72 L60.07 162.61 L60.10 164.48 L60.12 166.31 L60.14 168.12 L60.17 169.90 L60.19 171.64 L60.21 173.36 L60.24 175.06 L60.26 176.72 L60.29 178.36 L60.31 179.98 L60.34 181.56 L60.36 183.12 L60.39 184.66 L60.41 186.17 L60.44 187.66 L60.46 189.12 L60.49 190.56 L60.52 191.98 L60.54 193.38 L60.57 194.75 L60.60 196.10 L60.62 197.43 L60.65 198.74 L60.68 200.02 L60.71 201.29 L60.74 202.53 L60.77 203.76 L60.80 204.97 L60.82 206.15 L60.85 207.32 L60.88 208.47 L60.91 209.60 L60.94 210.71 L60.98 211.81 L61.01 212.88 L61.04 213.94 L61.07 214.99 L61.10 216.01 L61.13 217.02 L61.17 218.02 L61.20 219.00 L61.23 219.96 L61.26 220.91 L61.30 221.84 L61.33 222.76 L61.37 223.66 L61.40 224.55 L61.43 225.42 L61.47 226.28 L61.50 227.13 L61.54 227.96 L61.58 228.78 L61.61 229.59 L61.65 230.38 L61.68 231.16 L61.72 231.93 L61.76 232.69 L61.80 233.43 L61.83 234.17 L61.87 234.89 L61.91 235.60 L61.95 236.29 L61.99 236.98 L62.03 237.66 L62.07 238.32 L62.11 238.98 L62.15 239.63 L62.19 240.26 L62.23 240.88 L62.27 241.50 L62.31 242.11 L62.36 242.70 L62.40 243.29 L62.44 243.86 L62.48 244.43 L62.53 244.99 L62.57 245.54 L62.62 246.08 L62.66 246.62 L62.71 247.14 L62.75 247.66 L62.80 248.17 L62.84 248.67 L62.89 249.16 L62.94 249.65 L62.98 250.12 L63.03 250.59 L63.08 251.06 L63.13 251.51 L63.18 251.96 L63.23 252.40 L63.28 252.84 L63.33 253.27 L63.38 253.69 L63.43 254.10 L63.48 254.51 L63.53 254.91 L63.58 255.31 L63.64 255.70 L63.69 256.08 L63.75 256.46 L63.80 256.83 L63.85 257.20 L63.91 257.56 L63.97 257.91 L64.02 258.26 L64.08 258.61 L64.14 258.95 L64.20 259.28 L64.26 259.61 L64.32 259.93 L64.38 260.25 L64.44 260.56 L64.50 260.87 L64.56 261.17 L64.62 261.47 L64.69 261.77 L64.75 262.06 L64.82 262.34 L64.88 262.62 L64.95 262.90 L65.02 263.17 L65.09 263.44 L65.15 263.70 L65.22 263.96 L65.30 264.22 L65.37 264.47 L65.44 264.72 L65.51 264.96 L65.59 265.20 L65.66 265.44 L65.74 265.67 L65.81 265.90 L65.89 266.12 L65.97 266.34 L66.05 266.56 L66.13 266.78 L66.21 266.99 L66.29 267.20 L66.38 267.40 L66.46 267.60 L66.55 267.80 L66.64 267.99 L66.72 268.18 L66.81 268.37 L66.90 268.56 L67.00 268.74 L67.09 268.92 L67.18 269.09 L67.28 269.26 L67.37 269.43 L67.47 269.60 L67.57 269.77 L67.67 269.93 L67.77 270.09 L67.87 270.24 L67.98 270.39 L68.08 270.55 L68.19 270.69 L68.30 270.84 L68.41 270.98 L68.52 271.12 L68.63 271.26 L68.74 271.39 L68.86 271.53 L68.98 271.66 L69.09 271.79 L69.21 271.91 L69.33 272.04 L69.46 272.16 L69.58 272.28 L69.71 272.39 L69.83 272.51 L69.96 272.62 L70.09 272.73 L70.22 272.84 L70.36 272.94 L70.49 273.05 L70.63 273.15 L70.77 273.25 L70.91 273.35 L71.05 273.45 L71.19 273.54 L71.33 273.63 L71.48 273.73 L71.63 273.81 L71.78 273.90 L71.93 273.99 L72.08 274.07 L72.24 274.15 L72.39 274.24 L72.55 274.31 L72.71 274.39 L72.87 274.47 L73.03 274.54 L73.20 274.62 L73.37 274.69 L73.53 274.76 L73.70 274.83 L73.88 274.90 L74.05 274.96 L74.23 275.03 L74.40 275.09 L74.58 275.15 L74.76 275.21 L74.95 275.27 L75.13 275.33 L75.32 275.39 L75.51 275.45 L75.70 275.50 L75.89 275.56 L76.08 275.61 L76.28 275.66 L76.48 275.71 L76.68 275.76 L76.88 275.81 L77.08 275.86 L77.29 275.91 L77.50 275.95 L77.71 276.00 L77.92 276.04 L78.13 276.09 L78.35 276.13 L78.57 276.17 L78.79 276.21 L79.01 276.26 L79.23 276.30 L79.46 276.33 L79.69 276.37 L79.92 276.41 L80.15 276.45 L80.38 276.48 L80.62 276.52 L80.86 276.56 L81.10 276.59 L81.34 276.62 L81.59 276.66 L81.84 276.69 L82.09 276.72 L82.34 276.75 L82.60 276.79 L82.86 276.82 L83.11 276.85 L83.38 276.88 L83.64 276.91 L83.91 276.93 L84.18 276.96 L84.45 276.99 L84.73 277.02 L85.00 277.05 L85.28 277.07 L85.57 277.10 L85.85 277.12 L86.14 277.15 L86.43 277.18 L86.72 277.20 L87.02 277.22 L87.32 277.25 L87.62 277.27 L87.92 277.30 L88.23 277.32 L88.54 277.34 L88.85 277.36 L89.17 277.39 L89.49 277.41 L89.81 277.43 L90.14 277.45 L90.47 277.47 L90.80 277.49 L91.13 277.51 L91.47 277.53 L91.81 277.55 L92.16 277.57 L92.50 277.59 L92.85 277.61 L93.21 277.63 L93.57 277.65 L93.93 277.67 L94.29 277.68 L94.66 277.70 L95.03 277.72 L95.41 277.74 L95.79 277.75 L96.17 277.77 L96.56 277.79 L96.95 277.80 L97.34 277.82 L97.74 277.84 L98.14 277.85 L98.54 277.87 L98.95 277.88 L99.37 277.90 L99.79 277.91 L100.21 277.93 L100.63 277.94 L101.06 277.96 L101.50 277.97 L101.94 277.99 L102.38 278.00 L102.83 278.01 L103.28 278.03 L103.73 278.04 L104.19 278.05 L104.66 278.07 L105.13 278.08 L105.60 278.09 L106.08 278.10 L106.57 278.12 L107.05 278.13 L107.55 278.14 L108.05 278.15 L108.55 278.16 L109.06 278.17 L109.57 278.18 L110.09 278.20 L110.61 278.21 L111.14 278.22 L111.68 278.23 L112.22 278.24 L112.76 278.25 L113.31 278.26 L113.87 278.27 L114.43 278.28 L114.99 278.29 L115.57 278.30 L116.14 278.31 L116.73 278.32 L117.32 278.33 L117.91 278.33 L118.51 278.34 L119.12 278.35 L119.73 278.36 L120.35 278.37 L120.98 278.38 L121.61 278.39 L122.25 278.39 L122.90 278.40 L123.55 278.41 L124.20 278.42 L124.87 278.43 L125.54 278.43 L126.22 278.44 L126.90 278.45 L127.59 278.45 L128.29 278.46 L129.00 278.47 L129.71 278.48 L130.43 278.48 L131.15 278.49 L131.89 278.50 L132.63 278.50 L133.38 278.51 L134.13 278.51 L134.89 278.52 L135.67 278.53 L136.44 278.53 L137.23 278.54 L138.03 278.54 L138.83 278.55 L139.64 278.56 L140.46 278.56 L141.28 278.57 L142.12 278.57 L142.96 278.58 L143.81 278.58 L144.67 278.59 L145.54 278.59 L146.42 278.60 L147.31 278.60 L148.20 278.61 L149.10 278.61 L150.02 278.62 L150.94 278.62 L151.87 278.63 L152.81 278.63 L153.76 278.63 L154.72 278.64 L155.69 278.64 L156.67 278.65 L157.66 278.65 L158.66 278.65 L159.67 278.66 L160.68 278.66 L161.71 278.67 L162.75 278.67 L163.80 278.67 L164.86 278.68 L165.93 278.68 L167.01 278.68 L168.11 278.69 L169.21 278.69 L170.32 278.69 L171.45 278.70 L172.58 278.70 L173.73 278.70 L174.89 278.71 L176.06 278.71 L177.25 278.71 L178.44 278.72 L179.65 278.72 L180.86 278.72 L182.10 278.73 L183.34 278.73 L184.59 278.73 L185.86 278.73 L187.14 278.74 L188.44 278.74 L189.74 278.74 L191.06 278.74 L192.39 278.75 L193.74 278.75 L195.10 278.75 L196.47 278.75 L197.86 278.76 L199.26 278.76 L200.67 278.76 L202.10 278.76 L203.55 278.77 L205.00 278.77 L206.48 278.77 L207.96 278.77 L209.46 278.77 L210.98 278.78 L212.51 278.78 L214.06 278.78 L215.62 278.78 L217.20 278.78 L218.79 278.79 L220.40 278.79 L222.03 278.79 L223.67 278.79 L225.33 278.79 L227.01 278.79 L228.70 278.80 L230.41 278.80 L232.13 278.80 L233.88 278.80 L235.64 278.80 L237.42 278.80 L239.21 278.81 L241.03 278.81 L242.86 278.81 L244.71 278.81 L246.58 278.81 L248.47 278.81 L250.37 278.81 L252.30 278.82 L254.24 278.82 L256.21 278.82 L258.19 278.82 L260.20 278.82 L262.22 278.82 L264.26 278.82 L266.33 278.82 L268.41 278.83 L270.52 278.83 L272.65 278.83 L274.80 278.83 L276.97 278.83 L279.16 278.83 L281.37 278.83 L283.61 278.83 L285.87 278.83 L288.15 278.84 L290.45 278.84 L292.78 278.84 L295.13 278.84 L297.50 278.84 L299.90 278.84 L302.32 278.84 L304.76 278.84 L307.23 278.84 L309.73 278.84 L312.25 278.85 L314.79 278.85 L317.36 278.85 L319.96 278.85 L322.58 278.85 L325.22 278.85 L327.90 278.85 L330.60 278.85 L333.33 278.85 L336.08 278.85 L338.87 278.85 L341.68 278.85" fill="none" stroke="#00ad96" stroke-width="2.2"/>
<g stroke="#000" stroke-width="1" fill="none">
<path d="M51.6 1.5H337.4M337.4 1V278.9M46.5 278.4H337.9"/>
<path d="M51.9 1V278.9" stroke-width="1.15"/>
<path d="M46.5 220.10H51.6"/>
<path d="M46.5 161.80H51.6"/>
<path d="M46.5 103.30H51.6"/>
<path d="M46.5 44.40H51.6"/>
<path d="M57.80 278.4V283.6"/>
<path d="M110.74 278.4V283.6"/>
<path d="M163.68 278.4V283.6"/>
<path d="M216.62 278.4V283.6"/>
<path d="M269.56 278.4V283.6"/>
<path d="M322.50 278.4V283.6"/>
</g>
<g font-family="Liberation Serif" font-size="13.3" fill="#000">
<text x="45.1" y="282.10" text-anchor="end">0</text>
<text x="45.1" y="225.30" text-anchor="end">2,000</text>
<text x="45.1" y="165.70" text-anchor="end">4,000</text>
<text x="45.1" y="107.30" text-anchor="end">6,000</text>
<text x="45.1" y="48.20" text-anchor="end">8,000</text>
<text x="57.30" y="297" text-anchor="middle">0</text>
<text x="108.40" y="297" text-anchor="middle">1,000</text>
<text x="161.00" y="297" text-anchor="middle">2,000</text>
<text x="216.80" y="297" text-anchor="middle">3,000</text>
<text x="265.70" y="297" text-anchor="middle">4,000</text>
<text x="325.30" y="297" text-anchor="middle">5,000</text>
<text x="189.6" y="314.5" text-anchor="middle">Rank</text>
<text transform="translate(8.8 150.6) rotate(-90)" text-anchor="middle">Frequency (raw)</text>
</g>
<rect x="78.4" y="24" width="151" height="40.4" fill="#fff" stroke="#000" stroke-width="1"/>
<path d="M170 37H195" stroke="#00ad96" stroke-width="2.2"/>
<text font-family="Liberation Serif" font-size="13.3" x="83" y="40.6">Power function</text>
<text font-family="Liberation Serif" font-size="13.3" x="83.4" y="54.6" textLength="140" lengthAdjust="spacing">r² = .967, β = -98, <tspan font-style="italic">p</tspan> ≤ .001</text>
<g clip-path="url(#cr)" fill="none" stroke="#000" stroke-width="0.9"><circle cx="390.50" cy="30.91" r="3.2"/><circle cx="412.85" cy="39.68" r="3.2"/><circle cx="425.92" cy="45.58" r="3.2"/><circle cx="435.20" cy="46.10" r="3.2"/><circle cx="442.40" cy="48.13" r="3.2"/><circle cx="448.27" cy="49.77" r="3.2"/><circle cx="453.24" cy="51.98" r="3.2"/><circle cx="457.55" cy="52.44" r="3.2"/><circle cx="461.35" cy="53.42" r="3.2"/><circle cx="464.75" cy="54.74" r="3.2"/><circle cx="467.82" cy="56.01" r="3.2"/><circle cx="470.62" cy="57.19" r="3.2"/><circle cx="473.20" cy="58.13" r="3.2"/><circle cx="475.59" cy="59.05" r="3.2"/><circle cx="477.82" cy="59.95" r="3.2"/><circle cx="479.90" cy="60.82" r="3.2"/><circle cx="481.85" cy="61.67" r="3.2"/><circle cx="483.70" cy="62.50" r="3.2"/><circle cx="485.44" cy="63.46" r="3.2"/><circle cx="487.10" cy="64.47" r="3.2"/><circle cx="488.67" cy="65.45" r="3.2"/><circle cx="490.17" cy="66.42" r="3.2"/><circle cx="491.60" cy="67.35" r="3.2"/><circle cx="492.97" cy="68.25" r="3.2"/><circle cx="494.29" cy="69.14" r="3.2"/><circle cx="495.55" cy="70.00" r="3.2"/><circle cx="496.77" cy="70.67" r="3.2"/><circle cx="497.94" cy="71.34" r="3.2"/><circle cx="499.08" cy="71.99" r="3.2"/><circle cx="500.17" cy="72.63" r="3.2"/><circle cx="501.23" cy="73.25" r="3.2"/><circle cx="502.25" cy="73.86" r="3.2"/><circle cx="503.24" cy="74.47" r="3.2"/><circle cx="504.20" cy="75.06" r="3.2"/><circle cx="505.14" cy="75.63" r="3.2"/><circle cx="506.05" cy="76.22" r="3.2"/><circle cx="506.93" cy="76.80" r="3.2"/><circle cx="507.79" cy="77.39" r="3.2"/><circle cx="508.63" cy="77.97" r="3.2"/><circle cx="509.45" cy="78.53" r="3.2"/><circle cx="510.24" cy="79.10" r="3.2"/><circle cx="511.02" cy="79.65" r="3.2"/><circle cx="511.78" cy="80.18" r="3.2"/><circle cx="512.52" cy="80.73" r="3.2"/><circle cx="513.24" cy="81.26" r="3.2"/><circle cx="513.95" cy="81.78" r="3.2"/><circle cx="514.65" cy="82.30" r="3.2"/><circle cx="515.32" cy="82.80" r="3.2"/><circle cx="515.99" cy="83.29" r="3.2"/><circle cx="516.64" cy="83.78" r="3.2"/><circle cx="517.28" cy="84.26" r="3.2"/><circle cx="517.90" cy="84.74" r="3.2"/><circle cx="518.52" cy="85.23" r="3.2"/><circle cx="519.12" cy="85.56" r="3.2"/><circle cx="519.71" cy="85.90" r="3.2"/><circle cx="520.29" cy="86.22" r="3.2"/><circle cx="520.87" cy="86.55" r="3.2"/><circle cx="521.43" cy="86.88" r="3.2"/><circle cx="521.98" cy="87.21" r="3.2"/><circle cx="522.52" cy="87.52" r="3.2"/><circle cx="523.05" cy="87.84" r="3.2"/><circle cx="523.58" cy="88.14" r="3.2"/><circle cx="524.09" cy="88.46" r="3.2"/><circle cx="524.60" cy="88.76" r="3.2"/><circle cx="525.10" cy="89.02" r="3.2"/><circle cx="525.59" cy="89.27" r="3.2"/><circle cx="526.08" cy="89.53" r="3.2"/><circle cx="526.55" cy="89.77" r="3.2"/><circle cx="527.03" cy="90.03" r="3.2"/><circle cx="527.49" cy="90.27" r="3.2"/><circle cx="527.95" cy="90.52" r="3.2"/><circle cx="528.40" cy="90.76" r="3.2"/><circle cx="528.84" cy="91.01" r="3.2"/><circle cx="529.28" cy="91.26" r="3.2"/><circle cx="529.71" cy="91.51" r="3.2"/><circle cx="530.14" cy="91.73" r="3.2"/><circle cx="530.56" cy="91.96" r="3.2"/><circle cx="530.98" cy="92.22" r="3.2"/><circle cx="531.39" cy="92.45" r="3.2"/><circle cx="531.80" cy="92.74" r="3.2"/><circle cx="532.20" cy="93.03" r="3.2"/><circle cx="532.59" cy="93.33" r="3.2"/><circle cx="532.98" cy="93.63" r="3.2"/><circle cx="533.37" cy="93.91" r="3.2"/><circle cx="533.75" cy="94.18" r="3.2"/><circle cx="534.13" cy="94.46" r="3.2"/><circle cx="534.50" cy="94.75" r="3.2"/><circle cx="534.87" cy="95.03" r="3.2"/><circle cx="535.23" cy="95.32" r="3.2"/><circle cx="535.59" cy="95.58" r="3.2"/><circle cx="535.95" cy="95.84" r="3.2"/><circle cx="536.30" cy="96.11" r="3.2"/><circle cx="536.65" cy="96.37" r="3.2"/><circle cx="537.00" cy="96.64" r="3.2"/><circle cx="537.34" cy="96.91" r="3.2"/><circle cx="537.67" cy="97.22" r="3.2"/><circle cx="538.01" cy="97.57" r="3.2"/><circle cx="538.34" cy="97.92" r="3.2"/><circle cx="538.67" cy="98.28" r="3.2"/><circle cx="538.99" cy="98.61" r="3.2"/><circle cx="539.31" cy="98.97" r="3.2"/><circle cx="539.63" cy="99.31" r="3.2"/><circle cx="539.94" cy="99.65" r="3.2"/><circle cx="540.25" cy="99.99" r="3.2"/><circle cx="540.56" cy="100.33" r="3.2"/><circle cx="540.87" cy="100.65" r="3.2"/><circle cx="541.17" cy="100.96" r="3.2"/><circle cx="541.47" cy="101.32" r="3.2"/><circle cx="541.77" cy="101.65" r="3.2"/><circle cx="542.06" cy="101.97" r="3.2"/><circle cx="542.36" cy="102.26" r="3.2"/><circle cx="542.64" cy="102.60" r="3.2"/><circle cx="542.93" cy="102.89" r="3.2"/><circle cx="543.22" cy="103.24" r="3.2"/><circle cx="543.50" cy="103.54" r="3.2"/><circle cx="543.78" cy="103.85" r="3.2"/><circle cx="544.05" cy="104.16" r="3.2"/><circle cx="544.33" cy="104.47" r="3.2"/><circle cx="544.60" cy="104.79" r="3.2"/><circle cx="544.87" cy="105.06" r="3.2"/><circle cx="545.14" cy="105.39" r="3.2"/><circle cx="545.40" cy="105.67" r="3.2"/><circle cx="545.67" cy="105.96" r="3.2"/><circle cx="545.93" cy="106.24" r="3.2"/><circle cx="546.19" cy="106.53" r="3.2"/><circle cx="546.44" cy="106.83" r="3.2"/><circle cx="546.70" cy="107.12" r="3.2"/><circle cx="546.95" cy="107.42" r="3.2"/><circle cx="547.20" cy="107.73" r="3.2"/><circle cx="547.45" cy="107.98" r="3.2"/><circle cx="547.70" cy="108.29" r="3.2"/><circle cx="547.94" cy="108.55" r="3.2"/><circle cx="548.19" cy="108.82" r="3.2"/><circle cx="548.43" cy="109.14" r="3.2"/><circle cx="548.67" cy="109.41" r="3.2"/><circle cx="548.90" cy="109.68" r="3.2"/><circle cx="549.14" cy="109.95" r="3.2"/><circle cx="549.38" cy="110.23" r="3.2"/><circle cx="549.84" cy="110.74" r="3.2"/><circle cx="550.07" cy="111.02" r="3.2"/><circle cx="550.52" cy="111.54" r="3.2"/><circle cx="550.97" cy="112.08" r="3.2"/><circle cx="551.41" cy="112.56" r="3.2"/><circle cx="551.63" cy="112.86" r="3.2"/><circle cx="552.06" cy="113.36" r="3.2"/><circle cx="552.49" cy="113.86" r="3.2"/><circle cx="552.91" cy="114.38" r="3.2"/><circle cx="553.33" cy="114.84" r="3.2"/><circle cx="553.74" cy="115.30" r="3.2"/><circle cx="554.15" cy="115.78" r="3.2"/><circle cx="554.55" cy="116.19" r="3.2"/><circle cx="554.94" cy="116.68" r="3.2"/><circle cx="555.33" cy="117.11" r="3.2"/><circle cx="555.72" cy="117.54" r="3.2"/><circle cx="556.10" cy="117.99" r="3.2"/><circle cx="556.48" cy="118.36" r="3.2"/><circle cx="556.85" cy="118.81" r="3.2"/><circle cx="557.22" cy="119.20" r="3.2"/><circle cx="557.58" cy="119.67" r="3.2"/><circle cx="557.94" cy="120.07" r="3.2"/><circle cx="558.30" cy="120.47" r="3.2"/><circle cx="558.65" cy="120.88" r="3.2"/><circle cx="559.00" cy="121.29" r="3.2"/><circle cx="559.35" cy="121.63" r="3.2"/><circle cx="559.69" cy="122.06" r="3.2"/><circle cx="560.02" cy="122.49" r="3.2"/><circle cx="560.36" cy="122.84" r="3.2"/><circle cx="560.69" cy="123.20" r="3.2"/><circle cx="561.02" cy="123.56" r="3.2"/><circle cx="561.34" cy="124.02" r="3.2"/><circle cx="561.66" cy="124.39" r="3.2"/><circle cx="561.98" cy="124.77" r="3.2"/><circle cx="562.29" cy="125.06" r="3.2"/><circle cx="562.60" cy="125.45" r="3.2"/><circle cx="562.91" cy="125.84" r="3.2"/><circle cx="563.22" cy="126.24" r="3.2"/><circle cx="563.52" cy="126.54" r="3.2"/><circle cx="563.82" cy="126.95" r="3.2"/><circle cx="564.12" cy="127.26" r="3.2"/><circle cx="564.41" cy="127.58" r="3.2"/><circle cx="564.71" cy="128.00" r="3.2"/><circle cx="564.99" cy="128.32" r="3.2"/><circle cx="565.28" cy="128.65" r="3.2"/><circle cx="565.57" cy="128.98" r="3.2"/><circle cx="565.85" cy="129.32" r="3.2"/><circle cx="566.13" cy="129.66" r="3.2"/><circle cx="566.40" cy="130.00" r="3.2"/><circle cx="566.68" cy="130.35" r="3.2"/><circle cx="566.95" cy="130.70" r="3.2"/><circle cx="567.22" cy="130.94" r="3.2"/><circle cx="567.49" cy="131.30" r="3.2"/><circle cx="567.75" cy="131.67" r="3.2"/><circle cx="568.02" cy="131.91" r="3.2"/><circle cx="568.28" cy="132.29" r="3.2"/><circle cx="568.54" cy="132.66" r="3.2"/><circle cx="568.79" cy="132.92" r="3.2"/><circle cx="569.05" cy="133.18" r="3.2"/><circle cx="569.30" cy="133.57" r="3.2"/><circle cx="569.55" cy="133.83" r="3.2"/><circle cx="569.80" cy="134.10" r="3.2"/><circle cx="570.05" cy="134.51" r="3.2"/><circle cx="570.29" cy="134.78" r="3.2"/><circle cx="570.54" cy="135.06" r="3.2"/><circle cx="570.78" cy="135.34" r="3.2"/><circle cx="571.02" cy="135.62" r="3.2"/><circle cx="571.25" cy="135.90" r="3.2"/><circle cx="571.49" cy="136.34" r="3.2"/><circle cx="571.73" cy="136.63" r="3.2"/><circle cx="571.96" cy="136.92" r="3.2"/><circle cx="572.30" cy="137.22" r="3.2"/><circle cx="572.53" cy="137.53" r="3.2"/><circle cx="572.76" cy="137.83" r="3.2"/><circle cx="572.99" cy="138.14" r="3.2"/><circle cx="573.21" cy="138.45" r="3.2"/><circle cx="573.43" cy="138.77" r="3.2"/><circle cx="573.76" cy="139.09" r="3.2"/><circle cx="573.98" cy="139.41" r="3.2"/><circle cx="574.20" cy="139.74" r="3.2"/><circle cx="574.52" cy="140.07" r="3.2"/><circle cx="574.73" cy="140.41" r="3.2"/><circle cx="575.05" cy="140.75" r="3.2"/><circle cx="575.26" cy="141.09" r="3.2"/><circle cx="575.58" cy="141.44" r="3.2"/><circle cx="575.78" cy="141.80" r="3.2"/><circle cx="576.09" cy="142.15" r="3.2"/><circle cx="576.39" cy="142.52" r="3.2"/><circle cx="576.70" cy="142.89" r="3.2"/><circle cx="577.00" cy="143.26" r="3.2"/><circle cx="577.29" cy="143.64" r="3.2"/><circle cx="577.58" cy="144.02" r="3.2"/><circle cx="577.88" cy="144.41" r="3.2"/><circle cx="578.16" cy="144.80" r="3.2"/><circle cx="578.45" cy="145.20" r="3.2"/><circle cx="578.73" cy="145.61" r="3.2"/><circle cx="579.11" cy="146.02" r="3.2"/><circle cx="579.38" cy="146.44" r="3.2"/><circle cx="579.75" cy="146.87" r="3.2"/><circle cx="580.02" cy="147.30" r="3.2"/><circle cx="580.38" cy="147.74" r="3.2"/><circle cx="580.74" cy="148.18" r="3.2"/><circle cx="581.09" cy="148.64" r="3.2"/><circle cx="581.44" cy="149.10" r="3.2"/><circle cx="581.78" cy="149.57" r="3.2"/><circle cx="582.12" cy="150.04" r="3.2"/><circle cx="582.46" cy="150.53" r="3.2"/><circle cx="582.71" cy="150.78" r="3.2"/><circle cx="582.96" cy="151.02" r="3.2"/><circle cx="583.20" cy="151.53" r="3.2"/><circle cx="583.45" cy="151.78" r="3.2"/><circle cx="583.69" cy="152.04" r="3.2"/><circle cx="583.93" cy="152.30" r="3.2"/><circle cx="584.17" cy="152.57" r="3.2"/><circle cx="584.41" cy="153.10" r="3.2"/><circle cx="584.64" cy="153.37" r="3.2"/><circle cx="584.88" cy="153.64" r="3.2"/><circle cx="585.11" cy="153.92" r="3.2"/><circle cx="585.34" cy="154.20" r="3.2"/><circle cx="585.57" cy="154.48" r="3.2"/><circle cx="585.80" cy="154.77" r="3.2"/><circle cx="586.02" cy="155.05" r="3.2"/><circle cx="586.25" cy="155.35" r="3.2"/><circle cx="586.47" cy="155.64" r="3.2"/><circle cx="586.69" cy="155.94" r="3.2"/><circle cx="586.91" cy="156.24" r="3.2"/><circle cx="587.13" cy="156.54" r="3.2"/><circle cx="587.34" cy="156.85" r="3.2"/><circle cx="587.56" cy="157.16" r="3.2"/><circle cx="587.77" cy="157.47" r="3.2"/><circle cx="587.99" cy="157.79" r="3.2"/><circle cx="588.13" cy="158.12" r="3.2"/><circle cx="588.34" cy="158.44" r="3.2"/><circle cx="588.61" cy="158.77" r="3.2"/><circle cx="588.82" cy="159.11" r="3.2"/><circle cx="589.10" cy="159.44" r="3.2"/><circle cx="589.30" cy="159.79" r="3.2"/><circle cx="589.57" cy="160.13" r="3.2"/><circle cx="589.84" cy="160.48" r="3.2"/><circle cx="590.10" cy="160.84" r="3.2"/><circle cx="590.37" cy="161.20" r="3.2"/><circle cx="590.63" cy="161.56" r="3.2"/><circle cx="590.89" cy="161.94" r="3.2"/><circle cx="591.14" cy="162.31" r="3.2"/><circle cx="591.40" cy="162.69" r="3.2"/><circle cx="591.71" cy="163.08" r="3.2"/><circle cx="591.96" cy="163.47" r="3.2"/><circle cx="592.27" cy="163.87" r="3.2"/><circle cx="592.52" cy="164.27" r="3.2"/><circle cx="592.82" cy="164.68" r="3.2"/><circle cx="593.13" cy="165.09" r="3.2"/><circle cx="593.43" cy="165.52" r="3.2"/><circle cx="593.72" cy="165.94" r="3.2"/><circle cx="594.02" cy="166.38" r="3.2"/><circle cx="594.31" cy="166.82" r="3.2"/><circle cx="594.65" cy="167.27" r="3.2"/><circle cx="594.94" cy="167.73" r="3.2"/><circle cx="595.28" cy="168.20" r="3.2"/><circle cx="595.62" cy="168.67" r="3.2"/><circle cx="595.95" cy="169.15" r="3.2"/><circle cx="596.28" cy="169.64" r="3.2"/><circle cx="596.66" cy="170.14" r="3.2"/><circle cx="596.98" cy="170.65" r="3.2"/><circle cx="597.35" cy="171.17" r="3.2"/><circle cx="597.72" cy="171.70" r="3.2"/><circle cx="598.08" cy="172.23" r="3.2"/><circle cx="598.44" cy="172.78" r="3.2"/><circle cx="598.79" cy="172.78" r="3.2"/><circle cx="598.85" cy="173.35" r="3.2"/><circle cx="599.20" cy="173.35" r="3.2"/><circle cx="599.25" cy="173.92" r="3.2"/><circle cx="599.64" cy="174.50" r="3.2"/><circle cx="600.03" cy="175.10" r="3.2"/><circle cx="600.42" cy="175.10" r="3.2"/><circle cx="600.47" cy="175.71" r="3.2"/><circle cx="600.85" cy="175.71" r="3.2"/><circle cx="600.89" cy="176.34" r="3.2"/><circle cx="601.27" cy="176.34" r="3.2"/><circle cx="601.32" cy="176.98" r="3.2"/><circle cx="601.69" cy="176.98" r="3.2"/><circle cx="601.73" cy="177.64" r="3.2"/><circle cx="602.10" cy="177.64" r="3.2"/><circle cx="602.19" cy="178.31" r="3.2"/><circle cx="602.55" cy="178.31" r="3.2"/><circle cx="602.64" cy="179.00" r="3.2"/><circle cx="603.00" cy="179.00" r="3.2"/><circle cx="603.13" cy="179.70" r="3.2"/><circle cx="603.48" cy="179.70" r="3.2"/><circle cx="603.61" cy="180.43" r="3.2"/><circle cx="604.00" cy="180.43" r="3.2"/><circle cx="604.09" cy="181.17" r="3.2"/><circle cx="604.47" cy="181.17" r="3.2"/><circle cx="604.60" cy="181.94" r="3.2"/><circle cx="604.97" cy="181.94" r="3.2"/><circle cx="605.14" cy="182.73" r="3.2"/><circle cx="605.51" cy="182.73" r="3.2"/><circle cx="605.68" cy="183.54" r="3.2"/><circle cx="606.04" cy="183.54" r="3.2"/><circle cx="606.20" cy="184.38" r="3.2"/><circle cx="606.56" cy="184.38" r="3.2"/><circle cx="606.76" cy="185.24" r="3.2"/><circle cx="607.11" cy="185.24" r="3.2"/><circle cx="607.34" cy="186.14" r="3.2"/><circle cx="607.73" cy="186.14" r="3.2"/><circle cx="607.96" cy="187.06" r="3.2"/><circle cx="608.33" cy="187.06" r="3.2"/><circle cx="608.56" cy="188.01" r="3.2"/><circle cx="608.93" cy="188.01" r="3.2"/><circle cx="609.19" cy="189.00" r="3.2"/><circle cx="609.55" cy="189.00" r="3.2"/><circle cx="609.84" cy="190.03" r="3.2"/><circle cx="610.19" cy="190.03" r="3.2"/><circle cx="610.55" cy="191.10" r="3.2"/><circle cx="610.93" cy="191.10" r="3.2"/><circle cx="611.24" cy="192.21" r="3.2"/><circle cx="611.62" cy="192.21" r="3.2"/><circle cx="611.95" cy="193.37" r="3.2"/><circle cx="612.32" cy="193.37" r="3.2"/><circle cx="612.68" cy="193.37" r="3.2"/><circle cx="612.72" cy="194.58" r="3.2"/><circle cx="613.07" cy="194.58" r="3.2"/><circle cx="613.43" cy="194.58" r="3.2"/><circle cx="613.52" cy="195.84" r="3.2"/><circle cx="613.91" cy="195.84" r="3.2"/><circle cx="614.28" cy="195.84" r="3.2"/><circle cx="614.34" cy="197.17" r="3.2"/><circle cx="614.72" cy="197.17" r="3.2"/><circle cx="615.08" cy="197.17" r="3.2"/><circle cx="615.21" cy="198.57" r="3.2"/><circle cx="615.57" cy="198.57" r="3.2"/><circle cx="615.93" cy="198.57" r="3.2"/><circle cx="616.10" cy="200.04" r="3.2"/><circle cx="616.45" cy="200.04" r="3.2"/><circle cx="616.83" cy="200.04" r="3.2"/><circle cx="617.06" cy="201.59" r="3.2"/><circle cx="617.43" cy="201.59" r="3.2"/><circle cx="617.80" cy="201.59" r="3.2"/><circle cx="618.05" cy="203.24" r="3.2"/><circle cx="618.41" cy="203.24" r="3.2"/><circle cx="618.76" cy="203.24" r="3.2"/><circle cx="619.11" cy="205.00" r="3.2"/><circle cx="619.49" cy="205.00" r="3.2"/><circle cx="619.86" cy="205.00" r="3.2"/><circle cx="620.22" cy="205.00" r="3.2"/><circle cx="620.25" cy="206.88" r="3.2"/><circle cx="620.61" cy="206.88" r="3.2"/><circle cx="620.97" cy="206.88" r="3.2"/><circle cx="621.32" cy="206.88" r="3.2"/><circle cx="621.42" cy="208.89" r="3.2"/><circle cx="621.79" cy="208.89" r="3.2"/><circle cx="622.16" cy="208.89" r="3.2"/><circle cx="622.53" cy="208.89" r="3.2"/><circle cx="622.72" cy="211.07" r="3.2"/><circle cx="623.08" cy="211.07" r="3.2"/><circle cx="623.43" cy="211.07" r="3.2"/><circle cx="623.78" cy="211.07" r="3.2"/><circle cx="624.08" cy="213.44" r="3.2"/><circle cx="624.45" cy="213.44" r="3.2"/><circle cx="624.81" cy="213.44" r="3.2"/><circle cx="625.17" cy="213.44" r="3.2"/><circle cx="625.53" cy="213.44" r="3.2"/><circle cx="625.59" cy="216.04" r="3.2"/><circle cx="625.96" cy="216.04" r="3.2"/><circle cx="626.33" cy="216.04" r="3.2"/><circle cx="626.69" cy="216.04" r="3.2"/><circle cx="627.05" cy="216.04" r="3.2"/><circle cx="627.22" cy="218.90" r="3.2"/><circle cx="627.57" cy="218.90" r="3.2"/><circle cx="627.94" cy="218.90" r="3.2"/><circle cx="628.31" cy="218.90" r="3.2"/><circle cx="628.67" cy="218.90" r="3.2"/><circle cx="629.01" cy="222.11" r="3.2"/><circle cx="629.36" cy="222.11" r="3.2"/><circle cx="629.71" cy="222.11" r="3.2"/><circle cx="630.08" cy="222.11" r="3.2"/><circle cx="630.44" cy="222.11" r="3.2"/><circle cx="630.80" cy="222.11" r="3.2"/><circle cx="631.02" cy="225.74" r="3.2"/><circle cx="631.37" cy="225.74" r="3.2"/><circle cx="631.74" cy="225.74" r="3.2"/><circle cx="632.10" cy="225.74" r="3.2"/><circle cx="632.46" cy="225.74" r="3.2"/><circle cx="632.81" cy="225.74" r="3.2"/><circle cx="633.18" cy="225.74" r="3.2"/><circle cx="633.28" cy="229.94" r="3.2"/><circle cx="633.64" cy="229.94" r="3.2"/><circle cx="634.00" cy="229.94" r="3.2"/><circle cx="634.35" cy="229.94" r="3.2"/><circle cx="634.72" cy="229.94" r="3.2"/><circle cx="635.08" cy="229.94" r="3.2"/><circle cx="635.44" cy="229.94" r="3.2"/><circle cx="635.79" cy="229.94" r="3.2"/><circle cx="635.91" cy="234.90" r="3.2"/><circle cx="636.27" cy="234.90" r="3.2"/><circle cx="636.63" cy="234.90" r="3.2"/><circle cx="636.99" cy="234.90" r="3.2"/><circle cx="637.34" cy="234.90" r="3.2"/><circle cx="637.71" cy="234.90" r="3.2"/><circle cx="638.07" cy="234.90" r="3.2"/><circle cx="638.42" cy="234.90" r="3.2"/><circle cx="638.78" cy="234.90" r="3.2"/><circle cx="639.01" cy="240.97" r="3.2"/><circle cx="639.37" cy="240.97" r="3.2"/><circle cx="639.73" cy="240.97" r="3.2"/><circle cx="640.08" cy="240.97" r="3.2"/><circle cx="640.44" cy="240.97" r="3.2"/><circle cx="640.80" cy="240.97" r="3.2"/><circle cx="641.15" cy="240.97" r="3.2"/><circle cx="641.50" cy="240.97" r="3.2"/><circle cx="641.86" cy="240.97" r="3.2"/><circle cx="642.22" cy="240.97" r="3.2"/><circle cx="642.57" cy="240.97" r="3.2"/><circle cx="642.83" cy="248.80" r="3.2"/><circle cx="643.19" cy="248.80" r="3.2"/><circle cx="643.55" cy="248.80" r="3.2"/><circle cx="643.90" cy="248.80" r="3.2"/><circle cx="644.26" cy="248.80" r="3.2"/><circle cx="644.61" cy="248.80" r="3.2"/><circle cx="644.96" cy="248.80" r="3.2"/><circle cx="645.32" cy="248.80" r="3.2"/><circle cx="645.68" cy="248.80" r="3.2"/><circle cx="646.03" cy="248.80" r="3.2"/><circle cx="646.39" cy="248.80" r="3.2"/><circle cx="646.74" cy="248.80" r="3.2"/><circle cx="647.10" cy="248.80" r="3.2"/><circle cx="647.45" cy="248.80" r="3.2"/><circle cx="647.81" cy="248.80" r="3.2"/><circle cx="647.85" cy="259.84" r="3.2"/><circle cx="648.20" cy="259.84" r="3.2"/><circle cx="648.56" cy="259.84" r="3.2"/><circle cx="648.92" cy="259.84" r="3.2"/><circle cx="649.28" cy="259.84" r="3.2"/><circle cx="649.63" cy="259.84" r="3.2"/><circle cx="649.99" cy="259.84" r="3.2"/><circle cx="650.34" cy="259.84" r="3.2"/><circle cx="650.70" cy="259.84" r="3.2"/><circle cx="651.05" cy="259.84" r="3.2"/><circle cx="651.41" cy="259.84" r="3.2"/><circle cx="651.76" cy="259.84" r="3.2"/><circle cx="652.12" cy="259.84" r="3.2"/><circle cx="652.48" cy="259.84" r="3.2"/><circle cx="652.83" cy="259.84" r="3.2"/><circle cx="653.18" cy="259.84" r="3.2"/><circle cx="653.54" cy="259.84" r="3.2"/><circle cx="653.90" cy="259.84" r="3.2"/><circle cx="654.25" cy="259.84" r="3.2"/><circle cx="654.60" cy="259.84" r="3.2"/><circle cx="654.96" cy="259.84" r="3.2"/><circle cx="655.27" cy="278.70" r="3.2"/><circle cx="655.63" cy="278.70" r="3.2"/><circle cx="655.98" cy="278.70" r="3.2"/><circle cx="656.34" cy="278.70" r="3.2"/><circle cx="656.69" cy="278.70" r="3.2"/><circle cx="657.05" cy="278.70" r="3.2"/><circle cx="657.41" cy="278.70" r="3.2"/><circle cx="657.76" cy="278.70" r="3.2"/><circle cx="658.11" cy="278.70" r="3.2"/><circle cx="658.46" cy="278.70" r="3.2"/><circle cx="658.82" cy="278.70" r="3.2"/><circle cx="659.17" cy="278.70" r="3.2"/><circle cx="659.52" cy="278.70" r="3.2"/><circle cx="659.87" cy="278.70" r="3.2"/><circle cx="660.23" cy="278.70" r="3.2"/><circle cx="660.58" cy="278.70" r="3.2"/><circle cx="660.94" cy="278.70" r="3.2"/><circle cx="661.29" cy="278.70" r="3.2"/><circle cx="661.64" cy="278.70" r="3.2"/><circle cx="661.99" cy="278.70" r="3.2"/><circle cx="662.34" cy="278.70" r="3.2"/><circle cx="662.70" cy="278.70" r="3.2"/><circle cx="663.05" cy="278.70" r="3.2"/><circle cx="663.41" cy="278.70" r="3.2"/><circle cx="663.76" cy="278.70" r="3.2"/><circle cx="664.11" cy="278.70" r="3.2"/><circle cx="664.47" cy="278.70" r="3.2"/><circle cx="664.82" cy="278.70" r="3.2"/><circle cx="665.18" cy="278.70" r="3.2"/><circle cx="665.53" cy="278.70" r="3.2"/><circle cx="665.88" cy="278.70" r="3.2"/><circle cx="666.23" cy="278.70" r="3.2"/><circle cx="666.59" cy="278.70" r="3.2"/><circle cx="666.70" cy="278.70" r="3.2"/></g>
<path clip-path="url(#cr)" d="M390.50 45.41 L391.62 45.17 L392.74 44.93 L393.85 44.71 L394.97 44.49 L396.09 44.29 L397.20 44.09 L398.32 43.91 L399.44 43.73 L400.56 43.57 L401.68 43.41 L402.79 43.27 L403.91 43.13 L405.03 43.01 L406.14 42.89 L407.26 42.79 L408.38 42.69 L409.50 42.61 L410.62 42.54 L411.73 42.47 L412.85 42.42 L413.97 42.37 L415.09 42.34 L416.20 42.31 L417.32 42.30 L418.44 42.30 L419.56 42.30 L420.67 42.32 L421.79 42.34 L422.91 42.38 L424.03 42.43 L425.14 42.48 L426.26 42.55 L427.38 42.62 L428.50 42.71 L429.61 42.81 L430.73 42.91 L431.85 43.03 L432.97 43.15 L434.08 43.29 L435.20 43.44 L436.32 43.59 L437.44 43.76 L438.55 43.93 L439.67 44.12 L440.79 44.32 L441.90 44.52 L443.02 44.74 L444.14 44.97 L445.26 45.20 L446.38 45.45 L447.49 45.71 L448.61 45.97 L449.73 46.25 L450.84 46.54 L451.96 46.83 L453.08 47.14 L454.20 47.46 L455.31 47.78 L456.43 48.12 L457.55 48.47 L458.67 48.82 L459.78 49.19 L460.90 49.57 L462.02 49.95 L463.14 50.35 L464.25 50.76 L465.37 51.17 L466.49 51.60 L467.61 52.04 L468.72 52.48 L469.84 52.94 L470.96 53.41 L472.08 53.89 L473.19 54.37 L474.31 54.87 L475.43 55.38 L476.55 55.89 L477.66 56.42 L478.78 56.96 L479.90 57.51 L481.02 58.06 L482.13 58.63 L483.25 59.21 L484.37 59.80 L485.49 60.39 L486.60 61.00 L487.72 61.62 L488.84 62.25 L489.96 62.88 L491.07 63.53 L492.19 64.19 L493.31 64.86 L494.43 65.53 L495.54 66.22 L496.66 66.92 L497.78 67.63 L498.90 68.35 L500.01 69.07 L501.13 69.81 L502.25 70.56 L503.37 71.32 L504.48 72.08 L505.60 72.86 L506.72 73.65 L507.84 74.45 L508.95 75.26 L510.07 76.07 L511.19 76.90 L512.31 77.74 L513.42 78.59 L514.54 79.45 L515.66 80.32 L516.78 81.19 L517.89 82.08 L519.01 82.98 L520.13 83.89 L521.25 84.81 L522.36 85.74 L523.48 86.67 L524.60 87.62 L525.72 88.58 L526.83 89.55 L527.95 90.53 L529.07 91.52 L530.19 92.51 L531.30 93.52 L532.42 94.54 L533.54 95.57 L534.66 96.61 L535.77 97.66 L536.89 98.72 L538.01 99.79 L539.13 100.86 L540.24 101.95 L541.36 103.05 L542.48 104.16 L543.60 105.28 L544.71 106.41 L545.83 107.55 L546.95 108.70 L548.07 109.86 L549.18 111.03 L550.30 112.20 L551.42 113.39 L552.54 114.59 L553.65 115.80 L554.77 117.02 L555.89 118.25 L557.01 119.49 L558.12 120.74 L559.24 122.00 L560.36 123.27 L561.48 124.55 L562.59 125.84 L563.71 127.14 L564.83 128.44 L565.95 129.76 L567.06 131.09 L568.18 132.43 L569.30 133.78 L570.42 135.14 L571.53 136.51 L572.65 137.89 L573.77 139.28 L574.89 140.68 L576.00 142.09 L577.12 143.51 L578.24 144.94 L579.36 146.38 L580.47 147.83 L581.59 149.29 L582.71 150.76 L583.83 152.24 L584.94 153.73 L586.06 155.23 L587.18 156.74 L588.30 158.26 L589.41 159.79 L590.53 161.33 L591.65 162.88 L592.77 164.44 L593.88 166.01 L595.00 167.59 L596.12 169.18 L597.24 170.78 L598.36 172.39 L599.47 174.01 L600.59 175.64 L601.71 177.28 L602.83 178.93 L603.94 180.59 L605.06 182.26 L606.18 183.94 L607.30 185.64 L608.41 187.34 L609.53 189.05 L610.65 190.77 L611.77 192.50 L612.88 194.24 L614.00 195.99 L615.12 197.75 L616.24 199.52 L617.35 201.30 L618.47 203.09 L619.59 204.89 L620.71 206.70 L621.82 208.52 L622.94 210.36 L624.06 212.20 L625.18 214.05 L626.29 215.91 L627.41 217.78 L628.53 219.66 L629.65 221.55 L630.76 223.45 L631.88 225.36 L633.00 227.28 L634.12 229.22 L635.23 231.16 L636.35 233.11 L637.47 235.07 L638.59 237.04 L639.70 239.02 L640.82 241.01 L641.94 243.02 L643.06 245.03 L644.17 247.05 L645.29 249.08 L646.41 251.12 L647.53 253.17 L648.64 255.23 L649.76 257.31 L650.88 259.39 L652.00 261.48 L653.11 263.58 L654.23 265.69 L655.35 267.81 L656.47 269.95 L657.58 272.09 L658.70 274.24 L659.82 276.40 L660.94 278.57 L662.05 280.76" fill="none" stroke="#e3272d" stroke-width="1.9"/>
<g stroke="#000" stroke-width="1" fill="none">
<path d="M390.5 0.5H684.5M390.5 0V279.5M684.5 0V279.5"/>
<path d="M385 279H684.5" stroke="#000"/>
<path d="M385 278.70H390.5"/>
<path d="M385 231.54H390.5"/>
<path d="M385 184.38H390.5"/>
<path d="M385 137.22H390.5"/>
<path d="M385 90.06H390.5"/>
<path d="M385 42.90H390.5"/>
<path d="M390.50 279V284.5"/>
<path d="M435.20 279V284.5"/>
<path d="M479.90 279V284.5"/>
<path d="M524.60 279V284.5"/>
<path d="M569.30 279V284.5"/>
<path d="M614.00 279V284.5"/>
<path d="M658.70 279V284.5"/>
</g>
<g font-family="Liberation Serif" font-size="13.3" fill="#000">
<text x="383.6" y="283.00" text-anchor="end">0</text>
<text x="383.6" y="235.84" text-anchor="end">3</text>
<text x="383.6" y="188.58" text-anchor="end">5</text>
<text x="383.6" y="141.52" text-anchor="end">8</text>
<text x="383.6" y="94.46" text-anchor="end">10</text>
<text x="383.6" y="47.90" text-anchor="end">13</text>
<text x="392.80" y="299.3" text-anchor="middle">0</text>
<text x="435.50" y="299.3" text-anchor="middle">2</text>
<text x="477.80" y="299.3" text-anchor="middle">4</text>
<text x="524.50" y="299.3" text-anchor="middle">6</text>
<text x="570.00" y="299.3" text-anchor="middle">8</text>
<text x="612.90" y="299.3" text-anchor="middle">10</text>
<text x="659.20" y="299.3" text-anchor="middle">12</text>
<text x="462.3" y="314" >Rank (log-transformed)</text>
<text transform="translate(365.3 150.5) rotate(-90)" text-anchor="middle">Frequency (log-transformed)</text>
</g>
<rect x="423.4" y="179.4" width="158" height="40" fill="#fff" stroke="#000" stroke-width="1"/>
<path d="M534 192.4H558.5" stroke="#e3272d" stroke-width="2.2"/>
<text font-family="Liberation Serif" font-size="13.3" x="428.2" y="195.6">Quadratic function</text>
<text font-family="Liberation Serif" font-size="13.3" x="429.3" y="209.7" textLength="148.7" lengthAdjust="spacing">r² = .993, β = -1.13, <tspan font-style="italic">p</tspan> ≤ .001</text>
</svg>
</body></html>
